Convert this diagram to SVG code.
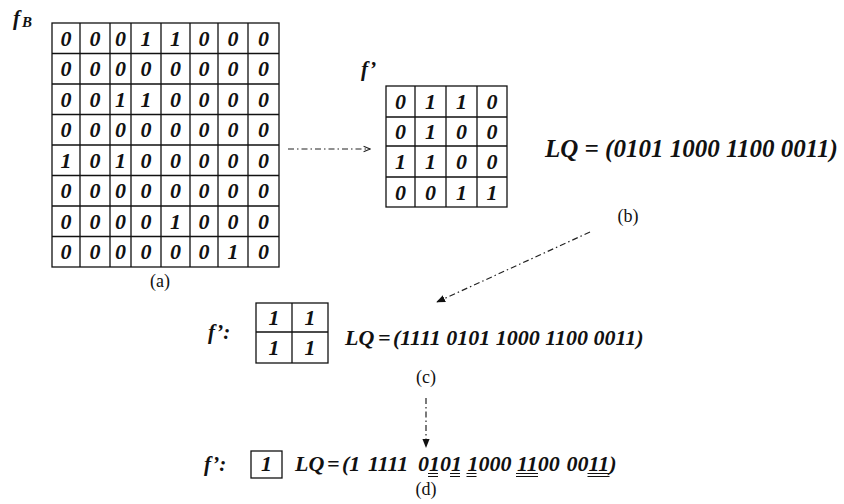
<svg xmlns="http://www.w3.org/2000/svg" width="844" height="504" viewBox="0 0 844 504">
  <defs>
    <style>
      .grid { fill: #fff; stroke: #111; stroke-width: 1.3; }
      .gl { stroke: #111; stroke-width: 1.3; }
      .d { font-family: "Liberation Serif", "Times New Roman", serif; font-weight: bold; font-style: italic; font-size: 22px; fill: #111; text-anchor: middle; }
      .bi { font-family: "Liberation Serif", "Times New Roman", serif; font-weight: bold; font-style: italic; fill: #111; }
      .cap { font-family: "Liberation Serif", "Times New Roman", serif; font-size: 18px; fill: #111; text-anchor: middle; }
      .conn { fill: none; stroke: #222; stroke-width: 1.2; stroke-dasharray: 6 3 1.5 3; }
      .ul { stroke: #111; stroke-width: 1; fill: none; }
    </style>
    <marker id="open" viewBox="0 0 10 10" refX="9" refY="5" markerWidth="8" markerHeight="8" orient="auto" markerUnits="userSpaceOnUse">
      <path d="M1,1.5 L9,5 L1,8.5" fill="none" stroke="#222" stroke-width="1.3"/>
    </marker>
    <marker id="solid" viewBox="0 0 10 10" refX="9" refY="5" markerWidth="9" markerHeight="9" orient="auto" markerUnits="userSpaceOnUse">
      <path d="M0,1 L10,5 L0,9 Z" fill="#111"/>
    </marker>
  </defs>

  <rect width="844" height="504" fill="#fff"/>

  <!-- 8x8 binary image f_B -->
  <g id="fB">
    <text class="bi" x="13" y="25" font-size="21">f</text>
    <text class="bi" x="22" y="27" font-size="15">B</text>
    <rect class="grid" x="52" y="23" width="227" height="244"/>
    <path class="gl" d="M80,23V267 M110,23V267 M131,23V267 M161,23V267 M190,23V267 M218,23V267 M248,23V267
                        M52,53.5H279 M52,84H279 M52,114.5H279 M52,145H279 M52,175.5H279 M52,206H279 M52,236.5H279"/>
    <g class="d">
      <!-- row 1 -->
      <text x="66" y="45.5">0</text><text x="95" y="45.5">0</text><text x="120.5" y="45.5">0</text><text x="146" y="45.5">1</text><text x="175.5" y="45.5">1</text><text x="204" y="45.5">0</text><text x="233" y="45.5">0</text><text x="263.5" y="45.5">0</text>
      <!-- row 2 -->
      <text x="66" y="76">0</text><text x="95" y="76">0</text><text x="120.5" y="76">0</text><text x="146" y="76">0</text><text x="175.5" y="76">0</text><text x="204" y="76">0</text><text x="233" y="76">0</text><text x="263.5" y="76">0</text>
      <!-- row 3 -->
      <text x="66" y="106.5">0</text><text x="95" y="106.5">0</text><text x="120.5" y="106.5">1</text><text x="146" y="106.5">1</text><text x="175.5" y="106.5">0</text><text x="204" y="106.5">0</text><text x="233" y="106.5">0</text><text x="263.5" y="106.5">0</text>
      <!-- row 4 -->
      <text x="66" y="137">0</text><text x="95" y="137">0</text><text x="120.5" y="137">0</text><text x="146" y="137">0</text><text x="175.5" y="137">0</text><text x="204" y="137">0</text><text x="233" y="137">0</text><text x="263.5" y="137">0</text>
      <!-- row 5 -->
      <text x="66" y="167.5">1</text><text x="95" y="167.5">0</text><text x="120.5" y="167.5">1</text><text x="146" y="167.5">0</text><text x="175.5" y="167.5">0</text><text x="204" y="167.5">0</text><text x="233" y="167.5">0</text><text x="263.5" y="167.5">0</text>
      <!-- row 6 -->
      <text x="66" y="198">0</text><text x="95" y="198">0</text><text x="120.5" y="198">0</text><text x="146" y="198">0</text><text x="175.5" y="198">0</text><text x="204" y="198">0</text><text x="233" y="198">0</text><text x="263.5" y="198">0</text>
      <!-- row 7 -->
      <text x="66" y="228.5">0</text><text x="95" y="228.5">0</text><text x="120.5" y="228.5">0</text><text x="146" y="228.5">0</text><text x="175.5" y="228.5">1</text><text x="204" y="228.5">0</text><text x="233" y="228.5">0</text><text x="263.5" y="228.5">0</text>
      <!-- row 8 -->
      <text x="66" y="259">0</text><text x="95" y="259">0</text><text x="120.5" y="259">0</text><text x="146" y="259">0</text><text x="175.5" y="259">0</text><text x="204" y="259">0</text><text x="233" y="259">1</text><text x="263.5" y="259">0</text>
    </g>
    <text class="cap" x="160" y="287">(a)</text>
  </g>

  <!-- 4x4 reduced image f' -->
  <g id="f4">
    <text class="bi" x="361" y="76" font-size="21">f’</text>
    <rect class="grid" x="386" y="86" width="121" height="121"/>
    <path class="gl" d="M415,86V207 M446,86V207 M477,86V207 M386,117H507 M386,146H507 M386,177H507"/>
    <g class="d">
      <text x="400.5" y="109">0</text><text x="430.5" y="109">1</text><text x="461.5" y="109">1</text><text x="492" y="109">0</text>
      <text x="400.5" y="139">0</text><text x="430.5" y="139">1</text><text x="461.5" y="139">0</text><text x="492" y="139">0</text>
      <text x="400.5" y="169">1</text><text x="430.5" y="169">1</text><text x="461.5" y="169">0</text><text x="492" y="169">0</text>
      <text x="400.5" y="199.5">0</text><text x="430.5" y="199.5">0</text><text x="461.5" y="199.5">1</text><text x="492" y="199.5">1</text>
    </g>
  </g>

  <!-- level code after first reduction -->
  <g id="lq1">
    <text class="bi" x="545" y="157" font-size="25">LQ = (0101 1000 1100 0011)</text>
    <text class="cap" x="628" y="222">(b)</text>
  </g>

  <!-- 2x2 image f' -->
  <g id="f2">
    <text class="bi" x="208" y="339" font-size="21">f’:</text>
    <rect class="grid" x="256" y="303" width="72" height="60"/>
    <path class="gl" d="M292,303V363 M256,332H328"/>
    <g class="d" font-size="21">
      <text x="274" y="325">1</text><text x="310" y="325">1</text>
      <text x="274" y="355">1</text><text x="310" y="355">1</text>
    </g>
    <text class="bi" y="345" font-size="22"><tspan x="345">LQ</tspan><tspan x="378">=</tspan><tspan x="393">(1111 0101 1000 1100 0011)</tspan></text>
    <text class="cap" x="426" y="383">(c)</text>
  </g>

  <!-- 1x1 image f' -->
  <g id="f1">
    <text class="bi" x="204" y="471" font-size="21">f’:</text>
    <rect class="grid" x="251" y="451" width="31" height="27"/>
    <text class="d" x="266.5" y="471" font-size="21">1</text>
    <text class="bi" y="471" font-size="22"><tspan x="295">LQ</tspan><tspan x="327">=</tspan><tspan x="342">(1</tspan><tspan x="368">1111</tspan><tspan x="418">0101</tspan><tspan x="467.5">1000</tspan><tspan x="517">1100</tspan><tspan x="566.5">0011)</tspan></text>
    <path class="ul" d="M428,473.5H438 M428,476.5H438
                        M450,473.5H460 M450,476.5H460
                        M466.5,473.5H476.5 M466.5,476.5H476.5
                        M516,473.5H538 M516,476.5H538
                        M587.5,473.5H609.5 M587.5,476.5H609.5"/>
    <text class="cap" x="426" y="495">(d)</text>
  </g>

  <!-- connectors -->
  <g id="connectors">
    <path class="conn" d="M288,149H370" marker-end="url(#open)"/>
    <path class="conn" d="M590,232L437,302" marker-end="url(#solid)"/>
    <path class="conn" d="M426,398V447" marker-end="url(#solid)"/>
  </g>
</svg>
